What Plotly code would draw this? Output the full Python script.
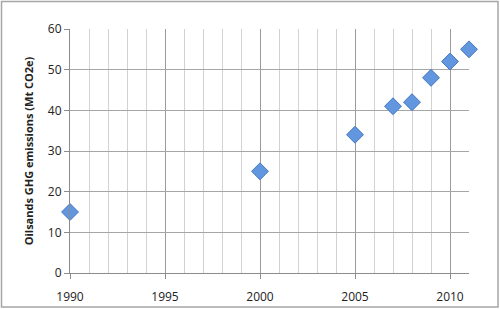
import plotly.graph_objects as go

years = [1990, 2000, 2005, 2007, 2008, 2009, 2010, 2011]
emissions = [15, 25, 34, 41, 42, 48, 52, 55]
y_title = "Oilsands GHG emissions (Mt CO2e)"

W, H = 500, 309
L, R, T, B = 70, 31, 29, 36
pw, ph = W - L - R, H - T - B

fig = go.Figure()
fig.add_trace(go.Scatter(
    x=years, y=emissions, mode="markers", cliponaxis=False,
    marker=dict(symbol="diamond", size=13, color="#6296DE",
                line=dict(color="#4577C2", width=1)),
    showlegend=False,
))

def px2paper_x(px):
    return (px - L) / pw

def px2paper_y(py):
    return 1 - (py - T) / ph

fig.add_shape(type="rect", xref="paper", yref="paper",
              x0=px2paper_x(1.5), x1=px2paper_x(498), y0=px2paper_y(1.5), y1=px2paper_y(307),
              line=dict(color="#A6A6A6", width=1.5), fillcolor="rgba(0,0,0,0)", layer="below")

fig.update_layout(
    width=W, height=H, margin=dict(l=L, r=R, t=T, b=B, autoexpand=False),
    paper_bgcolor="white", plot_bgcolor="white",
    font=dict(family="Open Sans, Liberation Sans, sans-serif", size=12, color="#222"),
    xaxis=dict(range=[1990, 2011], tick0=1990, dtick=5, showgrid=True, gridcolor="#9A9A9A",
               gridwidth=1, zeroline=False, showline=True, linecolor="#8C8C8C", linewidth=1,
               ticks="outside", ticklen=5, tickcolor="#8C8C8C", ticklabelstandoff=8,
               automargin=False,
               minor=dict(dtick=1, tick0=1990, showgrid=True, gridcolor="#D2D2D2", gridwidth=1),
               tickfont=dict(size=12)),
    yaxis=dict(range=[0, 60], dtick=10, showgrid=True, gridcolor="#A6A6A6", gridwidth=1,
               zeroline=False, showline=True, linecolor="#8C8C8C", linewidth=1,
               ticks="outside", ticklen=5, tickcolor="#8C8C8C", automargin=False,
               title=dict(text="<b>" + y_title + "</b>", font=dict(size=11), standoff=12),
               tickfont=dict(size=12)),
)

fig.write_html("out.html")
